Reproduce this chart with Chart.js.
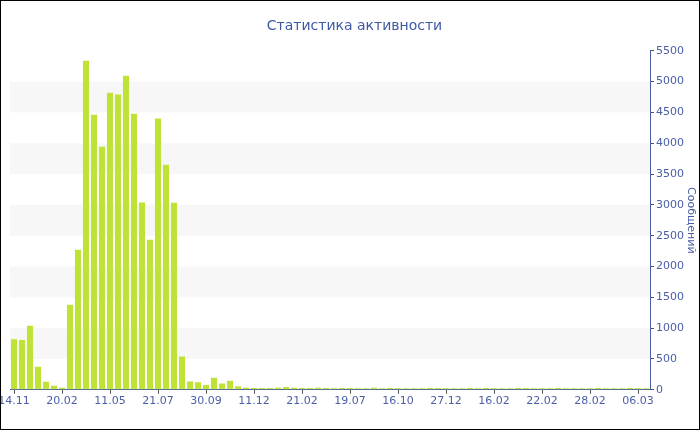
<!DOCTYPE html>
<html>
<head>
<meta charset="utf-8">
<script src="https://cdn.jsdelivr.net/npm/chart.js@4"></script>
<style>
    body { margin: 0; background: #fff; }
    #wrap { width: 700px; height: 430px; box-sizing: border-box; border: 1px solid #000; }
</style>
</head>
<body>
<div id="wrap"><canvas id="barChart" width="698" height="428"></canvas></div>
<script>
// every 6th bar carries a date label
const tickLabels = ['14.11', '20.02', '11.05', '21.07', '30.09', '11.12', '21.02',
    '19.07', '16.10', '27.12', '16.02', '22.02', '28.02', '06.03'];

const messages = [
    822, 806, 1038, 373, 130, 65, 32, 1379, 2271, 5338,
    4462, 3942, 4818, 4792, 5094, 4478, 3039, 2434, 4402, 3650,
    3034, 541, 135, 124, 76, 195, 103, 146, 59, 35,
    30, 30, 30, 35, 45, 35, 28, 28, 35, 28,
    26, 30, 28, 26, 26, 32, 26, 28, 26, 26,
    25, 26, 28, 30, 26, 26, 25, 28, 26, 30,
    26, 25, 26, 28, 30, 26, 25, 26, 28, 26,
    25, 26, 26, 28, 26, 25, 26, 28, 26, 25
];

const categories = messages.map((v, i) => i % 6 === 0 ? tickLabels[i / 6] : '');

const bandRanges = [[500, 1000], [1500, 2000], [2500, 3000], [3500, 4000], [4500, 5000]];

const blue = '#4a5ea8';

const bandsPlugin = {
    id: 'bands',
    beforeDatasetsDraw(chart) {
        const ctx = chart.ctx;
        const area = chart.chartArea;
        const y = chart.scales.y;
        ctx.save();
        ctx.fillStyle = '#f7f7f7';
        bandRanges.forEach(r => {
            const top = y.getPixelForValue(r[1]);
            const bottom = y.getPixelForValue(r[0]);
            ctx.fillRect(area.left, top, area.right - area.left, bottom - top);
        });
        ctx.restore();
    }
};

Chart.defaults.font.family = 'DejaVu Sans';

new Chart(document.getElementById('barChart').getContext('2d'), {
    type: 'bar',
    data: {
        labels: categories,
        datasets: [{
            data: messages,
            backgroundColor: '#bee236',
            barPercentage: 0.76,
            categoryPercentage: 1
        }]
    },
    options: {
        responsive: false,
        devicePixelRatio: 1,
        animation: false,
        layout: { padding: { left: 9, right: 0, top: 0, bottom: 20 } },
        plugins: {
            legend: { display: false },
            tooltip: { enabled: false },
            title: {
                display: true,
                text: 'Статистика активности',
                color: '#3f58a6',
                font: { size: 14, weight: 'normal' },
                padding: { top: 17, bottom: 16 }
            }
        },
        scales: {
            x: {
                offset: true,
                afterFit: s => { s.paddingLeft = 0; s.paddingRight = 0; },
                border: { color: blue, width: 1 },
                grid: { drawOnChartArea: false, tickLength: 4, color: '#555', offset: false },
                ticks: {
                    autoSkip: false,
                    maxRotation: 0,
                    color: blue,
                    font: { size: 11 },
                    padding: 1,
                    callback: function (val, i) {
                        return i % 6 === 0 ? this.getLabelForValue(val) : null;
                    }
                }
            },
            y: {
                position: 'right',
                min: 0,
                max: 5500,
                afterFit: s => { s.width = 49; },
                border: { color: blue, width: 1 },
                grid: {
                    drawOnChartArea: false,
                    tickLength: 4,
                    color: ctx => ctx.tick && ctx.tick.value % 500 === 0 ? '#555' : '#aaa'
                },
                ticks: {
                    stepSize: 250,
                    color: blue,
                    font: { size: 11 },
                    padding: 2,
                    callback: v => v % 500 === 0 ? v : ''
                },
                title: {
                    display: true,
                    text: 'Сообщений',
                    color: blue,
                    font: { size: 11 },
                    padding: { top: 2, bottom: 0 }
                }
            }
        }
    },
    plugins: [bandsPlugin]
});
</script>
</body>
</html>
